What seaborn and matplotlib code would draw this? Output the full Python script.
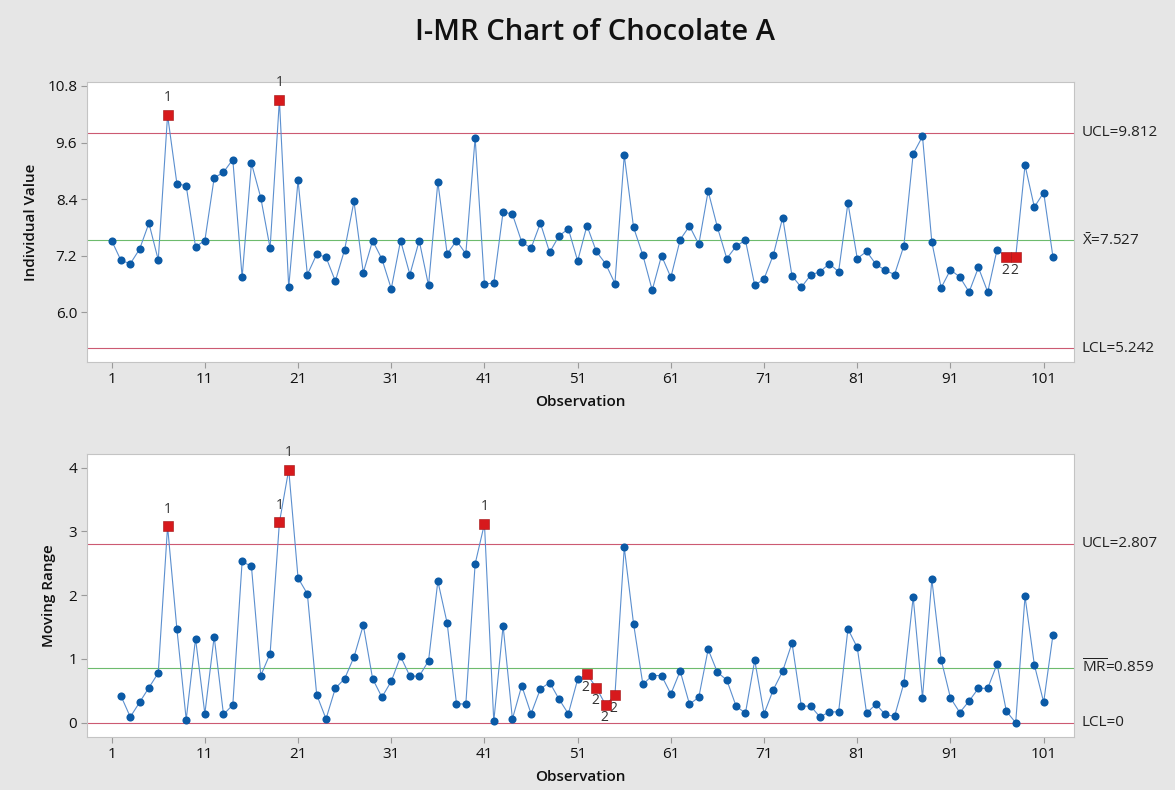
import numpy as np
import pandas as pd
import matplotlib
matplotlib.use("Agg")
import matplotlib.pyplot as plt
import seaborn as sns

# values
observations = list(range(1, 103))
individualValues = [7.52, 7.10, 7.03, 7.34, 7.89, 7.11, 10.18, 8.73, 8.68, 7.39,
                    7.52, 8.85, 8.97, 9.24, 6.74, 9.16, 8.43, 7.36, 10.50, 6.53,
                    8.80, 6.80, 7.23, 7.17, 6.66, 7.33, 8.35, 6.84, 7.52, 7.13,
                    6.50, 7.52, 6.80, 7.52, 6.57, 8.76, 7.24, 7.52, 7.24, 9.70,
                    6.60, 6.62, 8.13, 8.08, 7.49, 7.36, 7.89, 7.27, 7.62, 7.77,
                    7.09, 7.84, 7.29, 7.03, 6.61, 9.33, 7.80, 7.21, 6.47, 7.20,
                    6.74, 7.54, 7.83, 7.44, 8.57, 7.80, 7.14, 7.40, 7.53, 6.57,
                    6.71, 7.22, 8.01, 6.77, 6.53, 6.79, 6.86, 7.03, 6.86, 8.32,
                    7.14, 7.29, 7.02, 6.89, 6.80, 7.41, 9.36, 9.73, 7.49, 6.52,
                    6.90, 6.75, 6.43, 6.95, 6.43, 7.33, 7.17, 7.17, 9.12, 8.23,
                    8.54, 7.17]

mrObservations = list(range(2, 103))
movingRanges = [0.42, 0.09, 0.32, 0.55, 0.78, 3.08, 1.47, 0.05, 1.32, 0.14,
                1.35, 0.13, 0.28, 2.53, 2.45, 0.74, 1.08, 3.14, 3.97, 2.27,
                2.02, 0.44, 0.06, 0.54, 0.69, 1.03, 1.53, 0.69, 0.40, 0.65,
                1.04, 0.73, 0.73, 0.97, 2.22, 1.56, 0.30, 0.29, 2.49, 3.12,
                0.02, 1.52, 0.06, 0.58, 0.14, 0.53, 0.63, 0.37, 0.14, 0.68,
                0.76, 0.55, 0.28, 0.43, 2.75, 1.55, 0.60, 0.74, 0.74, 0.45,
                0.81, 0.29, 0.40, 1.15, 0.79, 0.67, 0.26, 0.15, 0.98, 0.14,
                0.52, 0.81, 1.25, 0.26, 0.26, 0.09, 0.17, 0.17, 1.47, 1.18,
                0.15, 0.29, 0.13, 0.10, 0.62, 1.97, 0.39, 2.25, 0.99, 0.39,
                0.16, 0.34, 0.54, 0.54, 0.92, 0.18, 0.00, 1.98, 0.91, 0.32,
                1.38]

iLimits = {"UCL": 9.812, "CL": 7.527, "LCL": 5.242}
mrLimits = {"UCL": 2.807, "CL": 0.859, "LCL": 0.0}
iLimitLabels = ["UCL=9.812", r"$\bar{\mathrm{X}}$=7.527", "LCL=5.242"]
mrLimitLabels = ["UCL=2.807", r"$\overline{\mathrm{MR}}$=0.859", "LCL=0"]

iFlagObs = [7, 19, 97, 98]
iFlagTests = ["1", "1", "2", "2"]
mrFlagObs = [7, 19, 20, 41, 52, 53, 54, 55]
mrFlagTests = ["1", "1", "1", "1", "2", "2", "2", "2"]

xTicks = [1, 11, 21, 31, 41, 51, 61, 71, 81, 91, 101]

bgColor = "#e6e6e6"
lineColor = "#5b8fcf"
dotColor = "#0b5aa6"
flagColor = "#d7191c"
limitColor = "#cc5a72"
centerColor = "#6dbb6d"

sns.set_style("white")
plt.rcParams["font.family"] = ["Open Sans", "DejaVu Sans"]
plt.rcParams["mathtext.fontset"] = "custom"
plt.rcParams["mathtext.rm"] = "Open Sans"


def drawPanel(ax, xs, ys, limits, limitLabels, flagObs, flagTests, yTicks, yFmt, yLabel, ylim):
    df = pd.DataFrame({"obs": xs, "value": ys})
    sns.lineplot(data=df, x="obs", y="value", ax=ax, color=lineColor, linewidth=0.8)
    sns.scatterplot(data=df, x="obs", y="value", ax=ax, color=dotColor, s=34,
                    edgecolor=dotColor, linewidth=0, zorder=3)
    flagged = df[df["obs"].isin(flagObs)]
    sns.scatterplot(data=flagged, x="obs", y="value", ax=ax, color=flagColor, marker="s",
                    s=48, edgecolor="#a01010", linewidth=0.4, zorder=4)
    for obs, test in zip(flagObs, flagTests):
        val = df.loc[df["obs"] == obs, "value"].iloc[0]
        if test == "1":
            ax.annotate(test, (obs, val), xytext=(0, 7), textcoords="offset points",
                        ha="center", va="bottom", fontsize=10, color="#333333")
        else:
            ax.annotate(test, (obs, val), xytext=(-1, -4), textcoords="offset points",
                        ha="center", va="top", fontsize=10, color="#333333")

    ax.axhline(limits["UCL"], color=limitColor, linewidth=0.8, zorder=1)
    ax.axhline(limits["LCL"], color=limitColor, linewidth=0.8, zorder=1)
    ax.axhline(limits["CL"], color=centerColor, linewidth=0.8, zorder=1)
    trans = ax.get_yaxis_transform()
    for key, label in zip(["UCL", "CL", "LCL"], limitLabels):
        ax.text(1.008, limits[key], label, transform=trans, ha="left", va="center",
                fontsize=11, color="#222222")

    ax.set_xlim(-1.65, 104.25)
    ax.set_ylim(*ylim)
    ax.set_xticks(xTicks)
    ax.set_yticks(yTicks)
    ax.set_yticklabels([yFmt.format(t) for t in yTicks])
    ax.tick_params(axis="both", which="major", length=4, width=0.8, color="#9a9a9a",
                   labelsize=11, labelcolor="#111111", pad=3, direction="out")
    ax.tick_params(axis="x", bottom=True)
    ax.tick_params(axis="y", left=True)
    for spine in ax.spines.values():
        spine.set_color("#c4c4c4")
        spine.set_linewidth(0.8)
    ax.set_facecolor("white")
    ax.set_xlabel("Observation", fontsize=11, fontweight="semibold", color="#111111")
    ax.set_ylabel(yLabel, fontsize=11, fontweight="semibold", color="#111111")
    ax.xaxis.set_label_coords(0.5, -0.118)


fig = plt.figure(figsize=(11.75, 7.9), dpi=100, facecolor=bgColor)
axTop = fig.add_axes([0.074, 0.542, 0.840, 0.354])
axBottom = fig.add_axes([0.074, 0.067, 0.840, 0.358])

drawPanel(axTop, observations, individualValues, iLimits, iLimitLabels, iFlagObs, iFlagTests,
          [6.0, 7.2, 8.4, 9.6, 10.8], "{:.1f}", "Individual Value", (4.95, 10.88))
axTop.yaxis.set_label_coords(-0.050, 0.5)

drawPanel(axBottom, mrObservations, movingRanges, mrLimits, mrLimitLabels, mrFlagObs, mrFlagTests,
          [0, 1, 2, 3, 4], "{:d}", "Moving Range", (-0.225, 4.21))
axBottom.yaxis.set_label_coords(-0.031, 0.5)

fig.text(0.506, 0.959, "I-MR Chart of Chocolate A", ha="center", va="center",
         fontsize=21, fontweight="semibold", color="#111111")

fig.savefig("out.png", dpi=100, facecolor=bgColor)
